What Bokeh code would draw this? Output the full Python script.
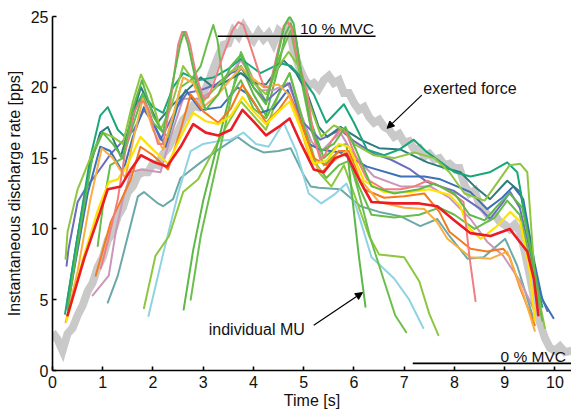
from bokeh.plotting import figure
from bokeh.models import Range1d, Arrow, NormalHead, Label, FixedTicker
from bokeh.embed import file_html
from bokeh.resources import INLINE

# ---------------- data ----------------
x_ticks = [0, 1, 2, 3, 4, 5, 6, 7, 8, 9, 10]
y_ticks = [0, 5, 10, 15, 20, 25]

force_t = [0.0, 0.1, 0.2, 0.3, 0.4, 0.5, 0.6, 0.7, 0.8, 0.9, 1.0, 1.1, 1.2, 1.3, 1.4, 1.5, 1.6, 1.7, 1.8, 1.9,
           2.0, 2.1, 2.2, 2.3, 2.4, 2.5, 2.6, 2.7, 2.8, 2.9, 3.0, 3.1, 3.2, 3.3, 3.4, 3.5, 3.6, 3.7, 3.8, 3.9,
           4.0, 4.1, 4.2, 4.3, 4.4, 4.5, 4.6, 4.7, 4.8, 4.9, 5.0, 5.1, 5.2, 5.3, 5.4, 5.5, 5.6, 5.7, 5.8, 5.9,
           6.0, 6.1, 6.2, 6.3, 6.4, 6.5, 6.6, 6.7, 6.8, 6.9, 7.0, 7.1, 7.2, 7.3, 7.4, 7.5, 7.6, 7.7, 7.8, 7.9,
           8.0, 8.1, 8.2, 8.3, 8.4, 8.5, 8.6, 8.7, 8.8, 8.9, 9.0, 9.1, 9.2, 9.3, 9.4, 9.5, 9.6, 9.7, 9.8, 9.9,
           10.0, 10.1, 10.2, 10.33]
force_y = [2.7, 2.2, 1.4, 2.6, 3.0, 3.9, 4.6, 5.6, 6.2, 7.3, 8.0, 9.2, 9.8, 10.9, 11.5, 12.6, 13.0, 13.8, 14.0, 14.0,
           14.6, 14.5, 15.3, 15.7, 16.4, 16.9, 17.7, 18.1, 18.7, 18.6, 19.6, 20.3, 21.3, 22.2, 23.0, 23.1, 24.0, 23.6, 24.3, 23.7,
           23.3, 23.9, 23.4, 23.8, 23.1, 24.0, 23.7, 24.3, 22.6, 21.5, 20.7, 20.1, 20.3, 19.9, 20.5, 20.8, 20.3, 20.5, 19.6, 19.6,
           18.9, 18.4, 18.6, 17.9, 17.5, 17.7, 17.2, 17.0, 16.5, 16.7, 16.1, 16.2, 15.6, 15.7, 15.1, 15.3, 14.9, 15.0, 14.5, 14.6,
           14.3, 14.3, 13.1, 12.5, 12.7, 11.7, 11.3, 10.8, 11.0, 10.5, 10.3, 10.0, 10.3, 9.8, 8.4, 6.7, 4.8, 3.4, 2.3, 1.6,
           1.4, 1.7, 1.3, 1.4]

gteal_t = [1.1, 1.3, 1.5, 1.7, 1.82, 2.1, 2.2, 2.4, 2.55, 2.95, 3.3, 3.68, 3.95, 4.2, 4.5, 4.74, 5.0, 5.14, 5.3,
           5.73, 6.13, 6.5, 6.92, 7.32, 7.66, 7.9, 8.26, 8.58, 9.01, 9.25, 9.57]
gteal_y = [4.8, 6.7, 9.5, 12.3, 12.6, 11.8, 11.6, 12.1, 13.6, 14.7, 15.6, 16.5, 15.8, 15.4, 15.5, 15.7, 13.8, 13.0, 12.9,
           12.8, 11.6, 11.2, 10.9, 10.2, 10.7, 9.5, 7.9, 8.0, 9.3, 7.4, 3.7]

lblue_t = [1.91, 2.2, 2.5, 2.75, 3.0, 3.3, 3.55, 3.8, 4.05, 4.3, 4.6, 4.85, 5.1, 5.35, 5.6, 5.85, 6.05, 6.35, 6.8,
           7.1, 7.38]
lblue_y = [3.85, 8.2, 12.5, 15.5, 16.0, 16.2, 16.3, 16.8, 16.0, 15.8, 17.5, 15.5, 12.5, 11.8, 12.4, 13.2, 11.5, 8.0, 6.5,
           5.0, 3.0]

lime2_t = [1.82, 2.05, 2.32, 2.6, 2.9, 3.2, 3.5, 3.75, 4.0, 4.25, 4.5, 4.72, 5.0, 5.3, 5.55, 5.8, 6.0, 6.3, 6.5,
           7.0, 7.3, 7.5, 7.68]
lime2_y = [4.4, 8.1, 9.5, 12.6, 13.5, 15.5, 17.5, 19.0, 18.0, 17.0, 19.5, 21.0, 17.5, 14.0, 13.0, 14.5, 12.5, 9.5, 8.2,
           8.0, 6.3, 4.0, 2.5]

greenc_t = [2.61, 2.8, 3.0, 3.25, 3.5, 3.75, 4.0, 4.25, 4.5, 4.64, 4.74, 4.84, 4.95, 5.15, 5.4, 5.65, 5.85, 5.97,
            6.1, 6.23]
greenc_y = [4.3, 8.5, 12.0, 15.5, 19.0, 21.5, 19.5, 18.0, 21.5, 23.8, 24.5, 23.6, 21.0, 17.5, 15.0, 15.8, 16.0, 12.1,
            8.0, 4.5]

greend_t = [2.75, 2.95, 3.2, 3.45, 3.75, 4.0, 4.25, 4.5, 4.74, 4.95, 5.15, 5.4, 5.7, 5.9, 6.1, 6.33, 6.82, 7.04]
greend_y = [5.0, 9.5, 13.5, 17.5, 22.5, 20.5, 19.0, 22.0, 24.0, 20.5, 17.0, 14.5, 15.5, 15.0, 12.5, 9.3, 3.9, 2.7]

mauve_t = [0.8, 1.12, 1.26, 1.4, 1.56, 1.76, 2.15, 2.35, 2.6, 2.95, 3.2, 3.5, 3.75, 3.95, 4.14, 4.4, 4.68, 4.94,
           5.15, 5.33, 5.55, 5.73, 6.0, 6.4, 6.93, 7.52, 7.9, 8.32, 8.65, 8.97, 9.31, 9.57]
mauve_y = [5.3, 6.7, 9.8, 12.1, 14.0, 14.2, 14.0, 16.5, 19.2, 19.2, 19.8, 20.8, 21.9, 20.8, 19.8, 19.8, 20.3, 18.2,
           16.2, 15.4, 16.2, 16.8, 15.2, 13.7, 13.0, 13.0, 12.2, 10.7, 9.1, 8.1, 6.3, 4.4]

purple_t = [0.28, 0.32, 0.5, 0.65, 0.9, 1.16, 1.4, 1.62, 1.82, 2.0, 2.15, 2.48, 2.68, 2.95, 3.25, 3.55, 3.78, 4.0,
            4.25, 4.5, 4.72, 4.94, 5.33, 5.73, 6.0, 6.4, 6.73, 7.12, 7.46, 7.98, 8.52, 8.71, 8.95, 9.11, 9.3, 9.5,
            9.7, 9.85]
purple_y = [7.4, 8.6, 11.9, 12.8, 14.0, 15.3, 16.2, 17.0, 18.4, 17.5, 16.3, 18.6, 19.6, 19.8, 20.2, 21.0, 21.3, 20.0,
            19.0, 19.8, 20.3, 17.7, 16.3, 17.0, 16.2, 15.3, 14.9, 14.2, 13.3, 12.7, 11.4, 10.7, 11.8, 12.6, 11.5, 8.5,
            5.5, 4.2]

blue_t = [0.3, 0.5, 0.7, 0.95, 1.15, 1.4, 1.6, 1.82, 2.0, 2.25, 2.5, 2.65, 2.95, 3.35, 3.68, 3.9, 4.14, 4.4, 4.68,
          4.9, 5.1, 5.33, 5.73, 6.26, 6.93, 7.4, 7.72, 8.32, 8.65, 8.95, 9.17, 9.37, 9.6, 9.75, 9.97]
blue_y = [4.5, 8.5, 12.5, 15.8, 15.5, 14.0, 16.5, 18.6, 17.5, 15.8, 18.8, 19.8, 18.4, 18.6, 20.0, 19.5, 18.2, 18.5, 19.8,
          18.0, 16.0, 15.6, 15.4, 14.4, 13.7, 13.7, 13.5, 12.6, 11.4, 12.2, 13.0, 12.1, 7.5, 5.0, 3.7]

dteal_t = [0.3, 0.5, 0.75, 0.95, 1.1, 1.36, 1.55, 1.76, 1.95, 2.09, 2.35, 2.68, 2.95, 3.2, 3.4, 3.75, 4.0, 4.25,
           4.6, 4.85, 5.07, 5.3, 5.47, 5.73, 6.13, 6.5, 6.93, 7.46, 7.72, 8.12, 8.4, 8.71, 9.05, 9.31, 9.5, 9.62, 9.72]
dteal_y = [5.0, 9.5, 14.5, 16.8, 17.2, 15.1, 17.5, 20.0, 18.6, 17.5, 18.6, 19.8, 20.7, 20.0, 20.3, 21.0, 20.3, 20.2,
           21.9, 21.0, 19.6, 17.2, 16.5, 17.2, 16.3, 15.7, 15.6, 14.7, 14.4, 14.0, 13.0, 12.1, 13.4, 12.6, 9.3, 6.0, 4.5]

tgreen_t = [0.25, 0.5, 0.75, 0.95, 1.1, 1.3, 1.5, 1.65, 1.8, 2.0, 2.2, 2.4, 2.6, 2.9, 3.21, 3.5, 3.75, 4.14, 4.54,
            4.75, 5.0, 5.2, 5.45, 5.8, 6.0, 6.26, 6.6, 6.9, 7.19, 7.46, 7.66, 8.0, 8.32, 8.7, 9.05, 9.25, 9.45, 9.6,
            9.75]
tgreen_y = [4.0, 9.5, 15.0, 18.0, 18.6, 17.0, 16.3, 18.5, 19.6, 18.6, 18.2, 20.0, 21.0, 20.5, 20.7, 21.3, 22.0, 21.0, 21.7,
            21.5, 20.5, 19.5, 17.5, 18.8, 17.5, 15.6, 15.2, 15.6, 16.3, 15.4, 14.9, 14.0, 13.7, 14.0, 14.7, 14.0, 10.0, 6.5,
            4.5]

lime_t = [0.26, 0.3, 0.5, 0.82, 1.0, 1.2, 1.4, 1.6, 1.76, 1.95, 2.15, 2.35, 2.6, 2.8, 3.0, 3.25, 3.5, 3.75, 4.0,
          4.25, 4.5, 4.7, 4.9, 5.1, 5.35, 5.6, 5.8, 6.0, 6.4, 6.8, 7.2, 7.6, 7.9, 8.2, 8.6, 8.9, 9.1, 9.31, 9.45,
          9.6, 9.8]
lime_y = [7.9, 9.8, 12.8, 15.6, 16.8, 16.5, 16.0, 19.0, 20.9, 19.5, 17.0, 18.5, 21.5, 20.5, 19.0, 20.0, 21.0, 21.5, 20.3,
          19.5, 21.5, 22.5, 21.5, 19.0, 16.5, 17.3, 17.0, 16.0, 15.2, 15.0, 15.4, 15.0, 14.0, 12.5, 12.0, 13.5, 14.5, 14.6, 14.0,
          6.5, 3.0]

greenb_t = [0.9, 1.0, 1.15, 1.4, 1.62, 1.8, 2.0, 2.3, 2.55, 2.75, 2.95, 3.1, 3.2, 3.28, 3.38, 3.5, 3.75, 4.0, 4.25,
            4.5, 4.72, 4.95, 5.2, 5.45, 5.7, 5.9, 6.1, 6.35, 6.8, 7.3, 7.7, 8.0, 8.4, 8.8, 9.05, 9.3, 9.5, 9.75]
greenb_y = [8.8, 11.5, 14.5, 15.0, 17.5, 19.5, 17.5, 16.5, 20.0, 20.5, 21.5, 23.3, 24.4, 23.4, 20.8, 19.1, 20.5, 18.5, 17.8,
            19.5, 21.0, 18.0, 14.8, 13.6, 14.5, 14.8, 13.0, 11.0, 10.8, 11.0, 11.5, 11.0, 10.0, 10.8, 12.0, 11.0, 8.0, 3.5]

orange_t = [0.86, 1.16, 1.4, 1.56, 1.75, 2.0, 2.3, 2.55, 2.75, 3.0, 3.3, 3.55, 3.78, 4.0, 4.25, 4.5, 4.72, 4.95,
            5.2, 5.45, 5.7, 5.9, 6.2, 6.6, 7.0, 7.4, 7.7, 7.9, 8.32, 8.65, 8.97, 9.1, 9.31, 9.6]
orange_y = [6.7, 10.5, 12.3, 13.5, 15.8, 15.2, 14.2, 17.0, 19.5, 18.3, 17.5, 18.5, 20.2, 19.0, 17.5, 18.4, 19.5, 17.5,
            15.0, 14.5, 15.5, 15.5, 12.8, 12.2, 12.3, 12.5, 11.2, 9.8, 8.6, 8.4, 8.6, 8.0, 5.8, 3.2]

lorange_t = [0.26, 0.5, 0.75, 0.98, 1.2, 1.45, 1.62, 1.8, 2.0, 2.2, 2.4, 2.6, 2.8, 3.0, 3.3, 3.55, 3.75, 4.0, 4.2,
             4.5, 4.7, 4.85, 5.1, 5.35, 5.6, 5.85, 6.1, 6.5, 7.0, 7.4, 7.65, 7.86, 8.32, 8.72, 9.05, 9.38, 9.6]
lorange_y = [3.4, 7.0, 12.0, 15.7, 15.0, 13.6, 16.5, 19.2, 17.0, 15.6, 18.0, 20.7, 20.3, 18.6, 19.5, 20.6, 21.4, 20.6, 20.0,
             20.2, 19.5, 18.2, 15.2, 14.0, 14.8, 15.5, 13.6, 11.9, 11.5, 11.4, 10.5, 9.3, 8.0, 7.9, 8.4, 5.3, 2.8]

yellow_t = [0.28, 0.6, 0.9, 1.12, 1.3, 1.5, 1.75, 2.0, 2.3, 2.55, 2.8, 3.05, 3.3, 3.55, 3.78, 4.0, 4.25, 4.5, 4.72,
            4.95, 5.2, 5.45, 5.7, 5.9, 6.2, 6.6, 7.1, 7.5, 7.9, 8.12, 8.25, 8.52, 8.85, 9.11, 9.31, 9.5, 9.6]
yellow_y = [3.5, 7.8, 11.3, 13.3, 13.5, 14.6, 16.5, 15.6, 14.6, 16.5, 18.2, 17.6, 17.4, 18.0, 19.3, 18.3, 17.4, 18.3, 19.0,
            17.0, 14.6, 14.8, 16.0, 15.8, 13.4, 12.6, 12.6, 12.8, 12.4, 11.6, 10.2, 9.3, 10.2, 11.2, 10.5, 7.0, 3.5]

salmon_t = [0.96, 1.1, 1.3, 1.45, 1.62, 1.72, 1.82, 1.92, 2.0, 2.1, 2.2, 2.35, 2.5, 2.58, 2.66, 2.74, 2.85, 3.0,
            3.1, 3.2, 3.4, 3.58, 3.7, 3.8, 3.95, 4.14, 4.22, 4.32, 4.48, 4.6, 4.68, 4.76, 4.84, 5.07, 5.2, 5.33,
            5.42, 5.55, 5.72, 5.85, 6.0, 6.26, 6.6, 6.93, 7.2, 7.46, 7.72, 8.0, 8.18, 8.3, 8.42]
salmon_y = [7.2, 9.1, 12.1, 15.5, 18.2, 18.9, 19.0, 18.4, 17.2, 16.0, 16.0, 19.0, 23.0, 23.9, 23.9, 23.0, 21.0, 19.2,
            19.3, 20.2, 22.3, 24.0, 24.6, 24.4, 22.8, 20.7, 20.0, 20.0, 22.5, 24.3, 24.6, 24.2, 22.6, 19.6, 16.5, 14.9,
            15.2, 16.2, 17.0, 16.8, 15.4, 13.5, 12.8, 12.8, 13.0, 13.4, 13.0, 12.4, 11.9, 8.0, 4.9]

greena_t = [0.3, 0.55, 0.8, 1.0, 1.2, 1.4, 1.6, 1.78, 2.0, 2.2, 2.4, 2.54, 2.62, 2.7, 2.85, 3.05, 3.3, 3.55, 3.75,
            4.0, 4.25, 4.5, 4.62, 4.72, 4.8, 4.95, 5.15, 5.35, 5.6, 5.83, 6.05, 6.35, 6.8, 7.3, 7.6, 8.0, 8.3, 8.6,
            8.9, 9.1, 9.35, 9.55, 9.7]
greena_y = [4.3, 10.0, 15.2, 16.8, 16.0, 15.0, 18.5, 20.5, 18.0, 16.8, 20.5, 23.0, 23.9, 23.0, 20.5, 18.4, 19.5, 21.5, 22.3,
            20.0, 18.8, 22.5, 24.4, 25.0, 24.5, 21.0, 17.0, 15.5, 16.0, 17.2, 15.5, 13.0, 12.5, 12.8, 13.2, 12.5, 11.0, 10.6,
            11.8, 12.5, 11.5, 8.0, 5.0]

red_t = [0.3, 0.63, 0.92, 1.1, 1.36, 1.56, 1.76, 2.03, 2.28, 2.55, 2.8, 3.05, 3.3, 3.55, 3.78, 4.0, 4.25, 4.5, 4.72,
         4.95, 5.2, 5.4, 5.62, 5.85, 6.13, 6.35, 6.8, 7.3, 7.66, 8.0, 8.32, 8.72, 9.1, 9.45, 9.58, 9.67]
red_y = [3.9, 7.9, 10.9, 12.8, 13.0, 14.2, 15.2, 14.7, 14.4, 15.8, 17.4, 16.8, 16.6, 17.0, 18.4, 17.6, 16.6, 17.2, 17.8,
         16.0, 14.2, 14.0, 15.0, 15.3, 13.3, 11.9, 11.8, 11.8, 11.6, 10.6, 9.7, 9.5, 10.0, 8.4, 6.5, 3.9]

# line drawing order and styles
mu_series = [
    (gteal_t, gteal_y, "#6aa9a8", 2.0),
    (lblue_t, lblue_y, "#8fd3e2", 2.0),
    (lime2_t, lime2_y, "#8dc63f", 2.0),
    (greenc_t, greenc_y, "#5cb848", 2.0),
    (greend_t, greend_y, "#6cbf4c", 2.0),
    (mauve_t, mauve_y, "#cc96b8", 2.0),
    (purple_t, purple_y, "#6c6dbd", 2.0),
    (blue_t, blue_y, "#3c70b8", 2.0),
    (dteal_t, dteal_y, "#2e7b7b", 2.0),
    (tgreen_t, tgreen_y, "#1ba57a", 2.0),
    (lime_t, lime_y, "#8ec640", 2.0),
    (greenb_t, greenb_y, "#67bd4a", 2.0),
    (orange_t, orange_y, "#f47a20", 2.0),
    (lorange_t, lorange_y, "#fbae40", 2.0),
    (yellow_t, yellow_y, "#ffe200", 2.2),
    (salmon_t, salmon_y, "#f07e80", 2.0),
    (greena_t, greena_y, "#5db94a", 2.0),
    (red_t, red_y, "#ec1c24", 2.6),
]

FONT = "Liberation Sans"

p = figure(width=571, height=411, output_backend="svg", toolbar_location=None,
           x_range=Range1d(0, 10.33), y_range=Range1d(0, 25),
           min_border_left=52, min_border_right=0, min_border_top=16, min_border_bottom=38)
p.outline_line_color = None
p.grid.visible = False
p.background_fill_color = "white"
p.border_fill_color = "white"

p.line(force_t, force_y, line_color="#c9c9c9", line_width=8, line_join="miter")

for t, y, c, w in mu_series:
    p.line(t, y, line_color=c, line_width=w, line_join="round", line_cap="round")

# MVC reference lines
p.line([3.29, 6.43], [23.6, 23.6], line_color="black", line_width=1.6)
p.line([7.17, 10.33], [0.5, 0.5], line_color="black", line_width=1.6)

for txt, x, y in [("10 % MVC", 6.4, 24.12), ("0 % MVC", 10.22, 1.0)]:
    p.add_layout(Label(x=x, y=y, text=txt, text_align="right", text_baseline="alphabetic",
                       text_font=FONT, text_font_size="15.5px", text_color="#111111"))

p.add_layout(Label(x=7.38, y=19.9, text="exerted force", text_align="left", text_baseline="alphabetic",
                   text_font=FONT, text_font_size="16px", text_color="#111111"))
p.add_layout(Label(x=3.11, y=2.9, text="individual MU", text_align="left", text_baseline="alphabetic",
                   text_font=FONT, text_font_size="16px", text_color="#111111"))

p.add_layout(Arrow(end=NormalHead(size=7, fill_color="black", line_color="black"),
                   x_start=7.35, y_start=19.45, x_end=6.66, y_end=17.1, line_width=1.2))
p.add_layout(Arrow(end=NormalHead(size=7, fill_color="black", line_color="black"),
                   x_start=5.2, y_start=3.2, x_end=6.17, y_end=5.5, line_width=1.2))

for ax in (p.xaxis[0], p.yaxis[0]):
    ax.major_tick_in = 4
    ax.major_tick_out = 0
    ax.minor_tick_in = 0
    ax.minor_tick_out = 0
    ax.axis_line_width = 1.6
    ax.axis_line_color = "black"
    ax.major_tick_line_width = 1.6
    ax.major_label_text_font = FONT
    ax.major_label_text_font_size = "16px"
    ax.major_label_text_color = "#111111"
    ax.axis_label_text_font = FONT
    ax.axis_label_text_font_size = "16px"
    ax.axis_label_text_font_style = "normal"
    ax.axis_label_text_color = "#111111"

p.xaxis[0].ticker = FixedTicker(ticks=x_ticks)
p.yaxis[0].ticker = FixedTicker(ticks=y_ticks)
p.xaxis[0].axis_label = "Time [s]"
p.yaxis[0].axis_label = "Instantaneous discharge rate [pps]"
p.xaxis[0].major_label_standoff = 5
p.yaxis[0].major_label_standoff = 4
p.xaxis[0].axis_label_standoff = 1
p.yaxis[0].axis_label_standoff = 5

open("out.html", "w").write(file_html(p, INLINE))
